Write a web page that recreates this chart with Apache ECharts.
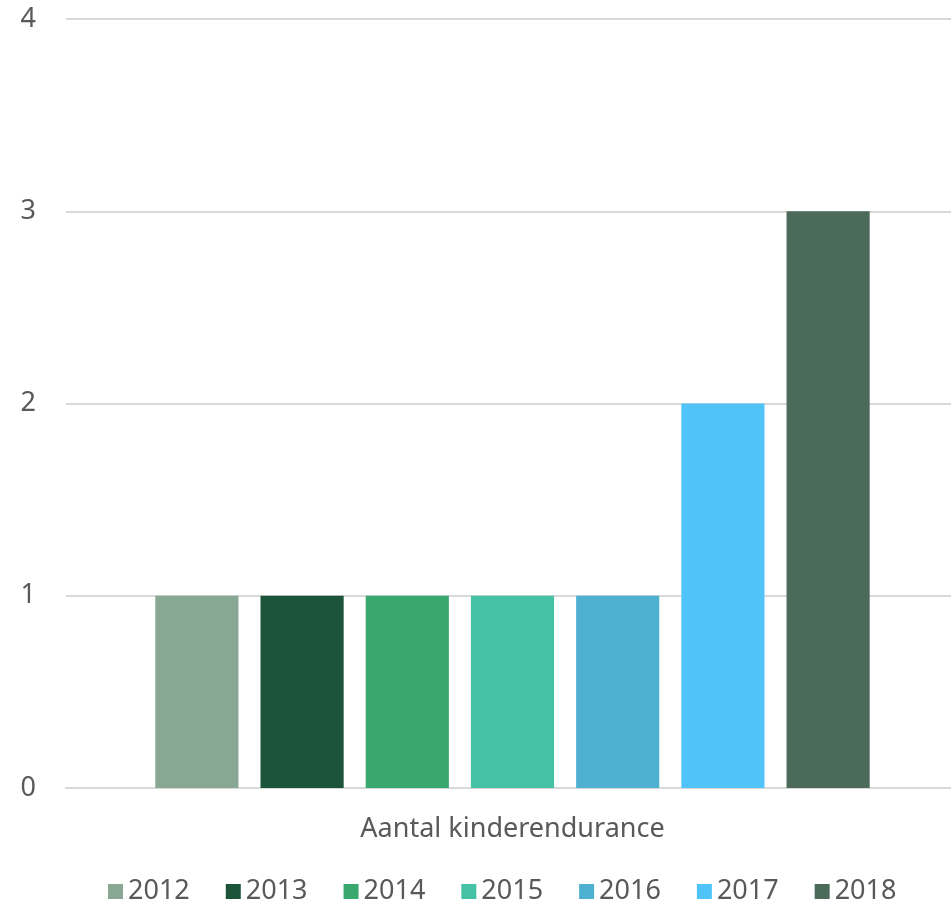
<!DOCTYPE html>
<html>
<head>
<meta charset="utf-8">
<script src="https://cdn.jsdelivr.net/npm/echarts@6/dist/echarts.min.js"></script>
<style>
html, body { margin: 0; padding: 0; background: #fff; }
#main { width: 951px; height: 907px; }
</style>
</head>
<body>
<div id="main"></div>
<script>
var category = ['Aantal kinderendurance'];
var years = ['2012', '2013', '2014', '2015', '2016', '2017', '2018'];
var values = [1, 1, 1, 1, 1, 2, 3];
var colors = ['#88a894', '#1b5439', '#38a86f', '#45c1a4', '#4fb1d1', '#50c4f8', '#4c6a5a'];

var font = "'Noto Sans', sans-serif";
var myChart = echarts.init(document.getElementById('main'));

var series = [];
for (var i = 0; i < years.length; i++) {
    series.push({
        name: years[i],
        type: 'bar',
        data: [values[i]],
        itemStyle: { color: colors[i] },
        barGap: '26.5%',
        barCategoryGap: '20%'
    });
}

var option = {
    backgroundColor: '#fff',
    animation: false,
    color: colors,
    textStyle: { fontFamily: font },
    grid: {
        left: 66,
        width: 893,
        top: 19,
        bottom: 119,
        outerBoundsMode: 'none'
    },
    legend: {
        bottom: -3,
        left: 103,
        icon: 'rect',
        itemWidth: 15,
        itemHeight: 15,
        itemGap: 36,
        textStyle: { fontSize: 27, color: '#595959', fontFamily: font },
        data: years
    },
    xAxis: {
        type: 'category',
        data: category,
        axisTick: { show: false },
        axisLine: { lineStyle: { color: '#d9d9d9', width: 2 } },
        axisLabel: { fontSize: 27, color: '#595959', margin: 28, fontFamily: font }
    },
    yAxis: {
        type: 'value',
        min: 0,
        max: 4,
        interval: 1,
        axisLine: { show: false },
        axisTick: { show: false },
        splitLine: { lineStyle: { color: '#d9d9d9', width: 2 } },
        axisLabel: { fontSize: 27, color: '#595959', margin: 30, fontFamily: font }
    },
    series: series
};

myChart.setOption(option);
</script>
</body>
</html>
